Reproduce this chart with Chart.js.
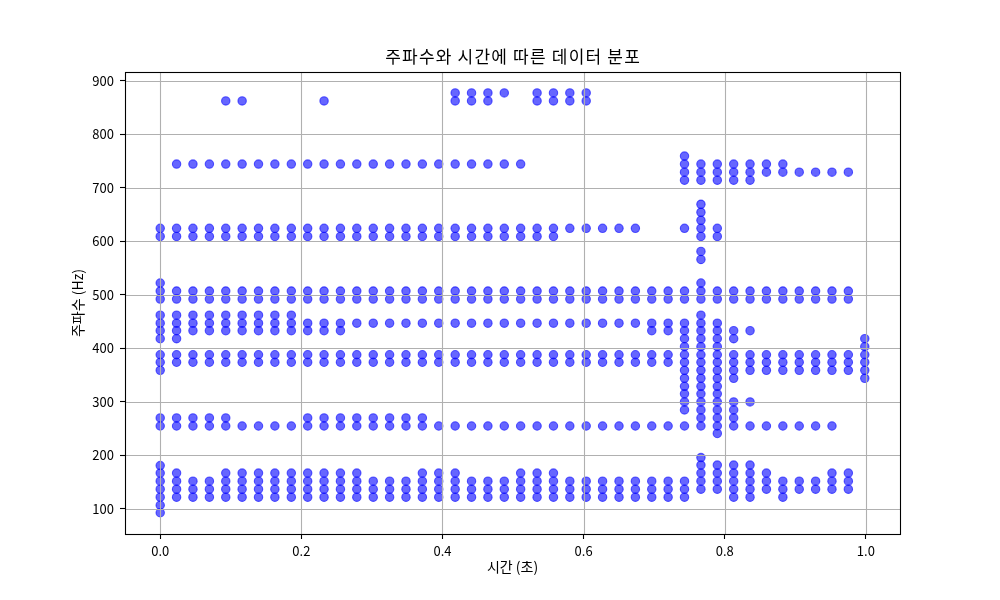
<!DOCTYPE html>
<html><head><meta charset="utf-8">
<script src="https://cdn.jsdelivr.net/npm/chart.js@4.4.1/dist/chart.umd.min.js"></script>
<style>html,body{margin:0;padding:0;background:#fff;}#wrap{width:1000px;height:600px;}canvas{display:block;}</style>
</head><body>
<div id="wrap"><canvas id="c" width="1000" height="600"></canvas></div>
<script>
// ---- data ----
const chartTitle = '주파수와 시간에 따른 데이터 분포';
const xLabel = '시간 (초)';
const yLabel = '주파수 (Hz)';
const xTickValues = [0, 0.2, 0.4, 0.6, 0.8, 1.0];
const yTickValues = [100, 200, 300, 400, 500, 600, 700, 800, 900];

// frame times (s)
const frameTimes = [
  0.0000, 0.0232, 0.0464, 0.0697, 0.0929, 0.1161, 0.1393, 0.1625, 0.1858, 0.2090,
  0.2322, 0.2554, 0.2786, 0.3019, 0.3251, 0.3483, 0.3715, 0.3947, 0.4180, 0.4412,
  0.4644, 0.4876, 0.5108, 0.5341, 0.5573, 0.5805, 0.6037, 0.6269, 0.6502, 0.6734,
  0.6966, 0.7198, 0.7430, 0.7663, 0.7895, 0.8127, 0.8359, 0.8591, 0.8824, 0.9056,
  0.9288, 0.9520, 0.9752, 0.9985
];

// frequencies (Hz) detected in each frame
const frameFreqs = [
  [624,609,522,507,492,462,447,433,418,388,374,359,270,255,181,167,152,137,122,107,93],
  [744,624,609,507,492,462,447,433,418,388,374,270,255,167,152,137,122],
  [744,624,609,507,492,462,447,433,388,374,270,255,152,137,122],
  [744,624,609,507,492,462,447,433,388,374,270,255,152,137,122],
  [862,744,624,609,507,492,462,447,433,388,374,270,255,167,152,137,122],
  [862,744,624,609,507,492,462,447,433,388,374,255,167,152,137,122],
  [744,624,609,507,492,462,447,433,388,374,255,167,152,137,122],
  [744,624,609,507,492,462,447,433,388,374,255,167,152,137,122],
  [744,624,609,507,492,462,447,433,388,374,255,167,152,137,122],
  [744,624,609,507,492,447,433,388,374,270,255,167,152,137,122],
  [862,744,624,609,507,492,447,433,388,374,270,255,167,152,137,122],
  [744,624,609,507,492,447,433,388,374,270,255,167,152,137,122],
  [744,624,609,507,492,447,388,374,270,255,167,152,137,122],
  [744,624,609,507,492,447,388,374,270,255,152,137,122],
  [744,624,609,507,492,447,388,374,270,255,152,137,122],
  [744,624,609,507,492,447,388,374,270,255,152,137,122],
  [744,624,609,507,492,447,388,374,270,255,167,152,137,122],
  [744,624,609,507,492,447,388,374,255,167,152,137,122],
  [877,862,744,624,609,507,492,447,388,374,255,167,152,137,122],
  [877,862,744,624,609,507,492,447,388,374,255,152,137,122],
  [877,862,744,624,609,507,492,447,388,374,255,152,137,122],
  [877,744,624,609,507,492,447,388,374,255,152,137,122],
  [744,624,609,507,492,447,388,374,255,167,152,137,122],
  [877,862,624,609,507,492,447,388,374,255,167,152,137,122],
  [877,862,624,609,507,492,447,388,374,255,167,152,137,122],
  [877,862,624,507,492,447,388,374,255,152,137,122],
  [877,862,624,507,492,447,388,374,255,152,137,122],
  [624,507,492,447,388,374,255,152,137,122],
  [624,507,492,447,388,374,255,152,137,122],
  [624,507,492,447,388,374,255,152,137,122],
  [507,492,447,433,388,374,255,152,137,122],
  [507,492,447,433,388,374,255,152,137,122],
  [759,744,729,714,624,507,492,447,433,418,403,388,374,359,344,329,315,300,285,255,152,137,122],
  [744,729,714,669,654,639,624,609,581,566,522,507,492,462,447,433,418,403,388,374,359,344,329,315,300,285,270,255,196,182,167,152,137],
  [744,729,714,624,609,507,492,447,433,418,403,388,374,359,344,329,315,300,285,270,255,241,182,167,152,137],
  [744,729,714,507,492,433,418,388,374,359,344,300,285,270,255,182,167,152,137,122],
  [744,729,714,507,492,433,388,374,359,300,255,182,167,152,137,122],
  [744,729,507,492,388,374,359,255,167,152,137],
  [744,729,507,492,388,374,359,255,152,137,122],
  [729,507,492,388,374,359,255,152,137],
  [729,507,492,388,374,359,255,152,137],
  [729,507,492,388,374,359,255,167,152,137],
  [729,507,492,388,374,359,167,152,137],
  [418,403,388,374,359,344]
];

// ---- build points ----
const points = [];
frameTimes.forEach((t, i) => frameFreqs[i].forEach(f => points.push({x: t, y: f})));

const FONT = '"Noto Sans CJK KR", "Noto Sans", sans-serif';

const overlay = {
  id: 'overlay',
  afterDatasetsDraw(chart) {
    const {ctx, chartArea: a, scales: {x, y}} = chart;
    ctx.save();
    ctx.beginPath();
    ctx.rect(a.left, a.top, a.right - a.left, a.bottom - a.top);
    ctx.clip();
    ctx.strokeStyle = '#b0b0b0';
    ctx.lineWidth = 1.1;
    x.ticks.forEach(t => {
      const p = Math.round(x.getPixelForValue(t.value)) + 0.5;
      ctx.beginPath(); ctx.moveTo(p, a.top); ctx.lineTo(p, a.bottom); ctx.stroke();
    });
    y.ticks.forEach(t => {
      const p = Math.round(y.getPixelForValue(t.value)) + 0.5;
      ctx.beginPath(); ctx.moveTo(a.left, p); ctx.lineTo(a.right, p); ctx.stroke();
    });
    ctx.restore();
    ctx.save();
    ctx.strokeStyle = '#000';
    ctx.lineWidth = 1.1;
    ctx.strokeRect(Math.round(a.left) + 0.5, Math.round(a.top) + 0.5,
                   Math.round(a.right - a.left), Math.round(a.bottom - a.top));
    ctx.restore();
  },
  afterDraw(chart) {
    const {ctx, chartArea: a} = chart;
    ctx.save();
    ctx.fillStyle = '#000';
    ctx.font = '17px ' + FONT;
    if ('letterSpacing' in ctx) ctx.letterSpacing = '1.2px';
    ctx.textAlign = 'center';
    ctx.textBaseline = 'middle';
    ctx.fillText(chartTitle, (a.left + a.right) / 2 + 0.6, 57);
    ctx.restore();
  }
};

new Chart(document.getElementById('c'), {
  type: 'scatter',
  data: {
    datasets: [{
      data: points,
      backgroundColor: 'rgba(0,0,255,0.6)',
      borderColor: 'rgba(0,0,255,0.6)',
      borderWidth: 1.1,
      pointRadius: 4.2,
      pointHoverRadius: 4.2
    }]
  },
  options: {
    responsive: false,
    animation: false,
    events: [],
    layout: {padding: {top: 72, right: 100, bottom: 0, left: 0}},
    plugins: {legend: {display: false}, tooltip: {enabled: false}, title: {display: false}},
    scales: {
      x: {
        type: 'linear',
        min: -0.0499,
        max: 1.0484,
        afterBuildTicks: s => { s.ticks = xTickValues.map(v => ({value: v})); },
        afterFit: s => { s.height = 66; },
        grid: {display: true, drawOnChartArea: false, drawTicks: true, tickLength: 5, tickColor: '#000', tickWidth: 1.1},
        border: {display: false},
        ticks: {
          color: '#000', padding: 4,
          font: {family: FONT, size: 13},
          maxRotation: 0,
          callback: v => Number(v).toFixed(1)
        },
        title: {display: true, text: xLabel, color: '#000', font: {family: FONT, size: 14}, padding: {top: 0, bottom: 24.6}}
      },
      y: {
        type: 'linear',
        min: 53.3,
        max: 916,
        afterBuildTicks: s => { s.ticks = yTickValues.map(v => ({value: v})); },
        afterFit: s => { s.width = 125; },
        grid: {display: true, drawOnChartArea: false, drawTicks: true, tickLength: 5, tickColor: '#000', tickWidth: 1.1},
        border: {display: false},
        ticks: {
          color: '#000', padding: 6,
          font: {family: FONT, size: 13},
          callback: v => String(v)
        },
        title: {display: true, text: yLabel, color: '#000', font: {family: FONT, size: 14}, padding: {top: 69, bottom: 0}}
      }
    }
  },
  plugins: [overlay]
});
</script>
</body></html>
